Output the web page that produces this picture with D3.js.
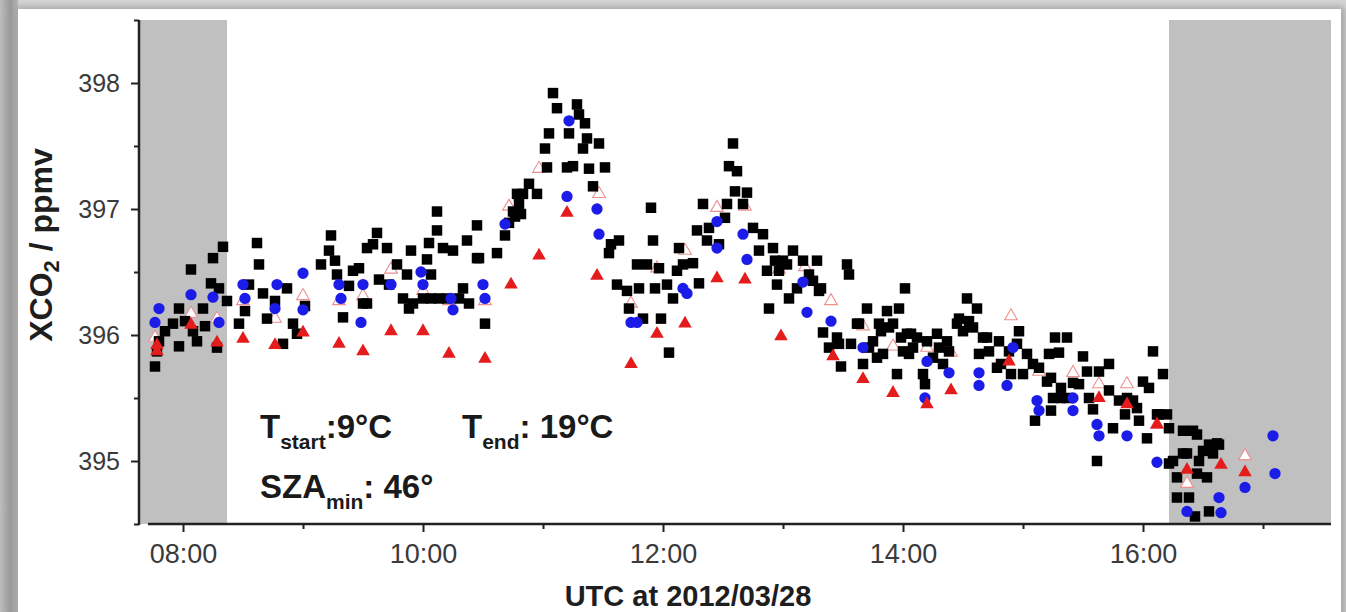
<!DOCTYPE html>
<html>
<head>
<meta charset="utf-8">
<script src="https://cdn.jsdelivr.net/npm/d3@7"></script>
<style>
  html, body { margin: 0; padding: 0; background: #fff; }
  svg { display: block; font-family: "Liberation Sans", Arial, sans-serif; }
</style>
</head>
<body>
<svg id="chart" width="1346" height="612"></svg>
<script>
'use strict'

// axis set-up
const timeDomain = ['07:38', '17:34']
const xco2Domain = [394.5, 398.5]
const majorTimeTicks = ['08:00', '10:00', '12:00', '14:00', '16:00']
const minorTimeTicks = ['09:00', '11:00', '13:00', '15:00', '17:00']
const majorXco2Ticks = [395, 396, 397, 398]
const minorXco2Ticks = [394.5, 395.5, 396.5, 397.5, 398.5]

// grey periods (start, end)
const darkPeriods = [['07:38', '08:22'], ['16:13', '17:34']]

// black squares [UTC, XCO2 ppmv]
const squareSeries = [
    ['07:46', 395.75], ['07:47', 395.87], ['07:48', 395.95], ['07:51', 396.03], ['07:55', 396.09],
    ['07:58', 396.21], ['07:58', 395.91], ['08:01', 396.11], ['08:04', 396.52], ['08:05', 396.03],
    ['08:07', 395.95], ['08:10', 396.21], ['08:11', 396.07], ['08:14', 396.41], ['08:15', 396.61],
    ['08:17', 395.90], ['08:18', 396.37], ['08:20', 396.70], ['08:22', 396.27], ['08:28', 396.09],
    ['08:31', 396.19], ['08:33', 396.40], ['08:37', 396.73], ['08:38', 396.56], ['08:40', 396.33],
    ['08:42', 396.13], ['08:46', 396.27], ['08:50', 395.93], ['08:52', 396.37], ['08:55', 396.09],
    ['08:57', 396.01], ['09:01', 396.23], ['09:09', 396.56], ['09:13', 396.67], ['09:14', 396.79],
    ['09:17', 396.48], ['09:16', 396.59], ['09:20', 396.14], ['09:23', 396.39], ['09:25', 396.51],
    ['09:28', 396.53], ['09:30', 396.25], ['09:32', 396.69], ['09:35', 396.72], ['09:32', 396.25],
    ['09:37', 396.81], ['09:38', 396.44], ['09:42', 396.69], ['09:43', 396.40], ['09:47', 396.56],
    ['09:50', 396.29], ['09:52', 396.48], ['09:53', 396.21], ['09:54', 396.67], ['09:55', 396.25],
    ['10:00', 396.29], ['10:02', 396.60], ['10:03', 396.73], ['10:04', 396.48], ['10:04', 396.29],
    ['10:07', 396.98], ['10:07', 396.83], ['10:08', 396.29], ['10:10', 396.69], ['10:12', 396.29],
    ['10:15', 396.67], ['10:18', 396.29], ['10:20', 396.37], ['10:22', 396.75], ['10:23', 396.25],
    ['10:27', 396.61], ['10:27', 396.87], ['10:28', 396.61], ['10:31', 396.09], ['10:37', 396.65],
    ['10:41', 396.79], ['10:43', 396.89], ['10:45', 396.98], ['10:46', 396.94], ['10:47', 397.12],
    ['10:48', 397.04], ['10:49', 396.96], ['10:50', 397.12], ['10:53', 397.20], ['10:57', 397.12],
    ['11:01', 397.48], ['11:02', 397.33], ['11:03', 397.60], ['11:05', 397.92], ['11:07', 397.80],
    ['11:12', 397.33], ['11:13', 397.60], ['11:15', 397.34], ['11:17', 397.83], ['11:18', 397.75],
    ['11:20', 397.48], ['11:21', 397.68], ['11:22', 397.56], ['11:23', 397.32], ['11:25', 397.18],
    ['11:28', 397.52], ['11:31', 397.33], ['11:33', 396.65], ['11:34', 396.72], ['11:37', 396.40],
    ['11:38', 396.75], ['11:42', 396.35], ['11:43', 396.21], ['11:47', 396.56], ['11:48', 396.37],
    ['11:50', 396.13], ['11:52', 396.56], ['11:54', 397.01], ['11:55', 396.75], ['11:56', 396.37],
    ['11:58', 396.53], ['11:59', 396.13], ['12:02', 396.40], ['12:03', 395.86], ['12:05', 396.29],
    ['12:07', 396.51], ['12:08', 396.69], ['12:10', 396.56], ['12:15', 396.57], ['12:17', 396.83],
    ['12:18', 396.41], ['12:20', 397.04], ['12:22', 396.75], ['12:23', 396.85], ['12:28', 396.72],
    ['12:32', 397.04], ['12:31', 396.93], ['12:33', 397.34], ['12:35', 397.52], ['12:36', 397.14],
    ['12:37', 397.30], ['12:40', 397.04], ['12:42', 397.13], ['12:45', 396.85], ['12:48', 396.67],
    ['12:50', 396.80], ['12:52', 396.51], ['12:53', 396.21], ['12:55', 396.69], ['12:56', 396.59],
    ['12:57', 396.40], ['12:58', 396.51], ['13:00', 396.59], ['13:02', 396.56], ['13:03', 396.29],
    ['13:05', 396.67], ['13:07', 396.37], ['13:10', 396.59], ['13:13', 396.48], ['13:15', 396.43],
    ['13:17', 396.59], ['13:18', 396.35], ['13:19', 396.37], ['13:20', 396.02], ['13:23', 395.90],
    ['13:27', 395.98], ['13:28', 395.93], ['13:29', 395.75], ['13:32', 396.56], ['13:33', 396.48],
    ['13:34', 395.93], ['13:37', 396.09], ['13:38', 396.09], ['13:40', 395.77], ['13:42', 396.21],
    ['13:43', 395.90], ['13:45', 395.95], ['13:47', 395.82], ['13:48', 396.09], ['13:49', 396.03],
    ['13:50', 395.85], ['13:52', 396.19], ['13:53', 396.06], ['13:55', 396.09], ['13:57', 395.69],
    ['13:58', 396.21], ['13:59', 395.98], ['14:00', 395.87], ['14:01', 396.37], ['14:02', 396.01],
    ['14:03', 395.85], ['14:04', 396.01], ['14:05', 395.90], ['14:07', 395.98], ['14:10', 395.69],
    ['14:11', 395.61], ['14:12', 395.95], ['14:15', 395.82], ['14:17', 396.01], ['14:18', 395.90],
    ['14:20', 395.77], ['14:22', 395.95], ['14:23', 395.87], ['14:27', 396.09], ['14:28', 396.13],
    ['14:30', 396.03], ['14:32', 396.29], ['14:33', 396.11], ['14:35', 396.06], ['14:37', 396.21],
    ['14:38', 395.85], ['14:40', 395.98], ['14:42', 395.98], ['14:43', 395.87], ['14:47', 395.74],
    ['14:48', 395.95], ['14:49', 395.77], ['14:53', 395.87], ['14:54', 395.69], ['14:57', 395.93],
    ['14:58', 396.03], ['15:00', 395.69], ['15:02', 395.85], ['15:05', 395.77], ['15:06', 395.32],
    ['15:08', 395.74], ['15:12', 395.63], ['15:13', 395.85], ['15:14', 395.66], ['15:14', 395.40],
    ['15:15', 395.50], ['15:16', 395.98], ['15:18', 395.86], ['15:19', 395.58], ['15:19', 395.50],
    ['15:22', 395.98], ['15:22', 395.50], ['15:25', 395.62], ['15:28', 395.61], ['15:30', 395.83],
    ['15:32', 395.71], ['15:33', 395.50], ['15:35', 395.41], ['15:37', 395.00], ['15:38', 395.71],
    ['15:43', 395.77], ['15:43', 395.56], ['15:45', 395.26], ['15:48', 395.48], ['15:52', 395.50],
    ['15:51', 395.37], ['15:55', 395.48], ['15:57', 395.42], ['15:58', 395.32], ['16:00', 395.63],
    ['16:02', 395.18], ['16:03', 395.58], ['16:05', 395.87], ['16:07', 395.37], ['16:08', 395.37],
    ['16:10', 395.69], ['16:12', 395.37], ['16:13', 395.26], ['16:13', 394.98], ['16:15', 395.00],
    ['16:17', 394.87], ['16:17', 394.71], ['16:20', 395.24], ['16:20', 395.06], ['16:22', 395.06],
    ['16:23', 394.71], ['16:25', 395.24], ['16:26', 394.56], ['16:27', 395.21], ['16:27', 394.90],
    ['16:28', 395.00], ['16:30', 395.08], ['16:32', 394.87], ['16:33', 395.13], ['16:33', 394.60],
    ['16:35', 395.06], ['16:37', 395.14], ['16:38', 395.13]
]

// blue circles
const circleSeries = [
    ['07:46', 396.10], ['07:48', 396.21], ['08:04', 396.32], ['08:15', 396.30], ['08:18', 396.10],
    ['08:30', 396.40], ['08:31', 396.29], ['08:46', 396.21], ['08:47', 396.40], ['09:00', 396.49],
    ['09:00', 396.20], ['09:18', 396.40], ['09:19', 396.29], ['09:29', 396.10], ['09:30', 396.40],
    ['09:44', 396.40], ['09:59', 396.50], ['10:00', 396.40], ['10:14', 396.29], ['10:15', 396.20],
    ['10:30', 396.40], ['10:31', 396.29], ['10:41', 396.88], ['11:13', 397.70], ['11:12', 397.10],
    ['11:27', 397.00], ['11:28', 396.80], ['11:44', 396.10], ['11:47', 396.10], ['12:10', 396.37],
    ['12:12', 396.33], ['12:27', 396.90], ['12:27', 396.69], ['12:40', 396.80], ['12:42', 396.60],
    ['13:10', 396.42], ['13:12', 396.18], ['13:24', 396.11], ['13:40', 395.90], ['14:12', 395.79],
    ['14:11', 395.50], ['14:23', 395.70], ['14:38', 395.70], ['14:38', 395.60], ['14:52', 395.60],
    ['14:55', 395.90], ['15:07', 395.48], ['15:08', 395.40], ['15:25', 395.50], ['15:25', 395.40],
    ['15:37', 395.29], ['15:38', 395.20], ['15:52', 395.20], ['16:07', 394.99], ['16:22', 394.60],
    ['16:38', 394.71], ['16:39', 394.59], ['16:51', 394.79], ['17:05', 395.20], ['17:06', 394.90]
]

// red filled triangles
const filledTriangleSeries = [
    ['07:47', 395.92], ['07:47', 395.87], ['08:04', 396.08], ['08:17', 395.94], ['08:30', 395.97],
    ['08:46', 395.92], ['09:00', 396.02], ['09:18', 395.93], ['09:30', 395.87], ['09:44', 396.03],
    ['10:00', 396.03], ['10:13', 395.85], ['10:31', 395.81], ['10:44', 396.40], ['10:58', 396.63],
    ['11:12', 396.97], ['11:27', 396.47], ['11:44', 395.77], ['11:57', 396.01], ['12:11', 396.09],
    ['12:27', 396.45], ['12:41', 396.44], ['12:59', 395.99], ['13:25', 395.83], ['13:40', 395.65],
    ['13:55', 395.54], ['14:12', 395.45], ['14:24', 395.56], ['14:53', 395.79], ['15:38', 395.50],
    ['15:52', 395.45], ['16:07', 395.29], ['16:22', 394.93], ['16:39', 394.97], ['16:51', 394.91]
]

// open triangles
const openTriangleSeries = [
    ['07:46', 395.98], ['08:04', 396.17], ['08:17', 396.13], ['08:30', 396.27], ['08:46', 396.13],
    ['09:00', 396.31], ['09:18', 396.27], ['09:30', 396.31], ['09:44', 396.52], ['10:00', 396.35],
    ['10:13', 396.27], ['10:31', 396.27], ['10:43', 397.02], ['10:58', 397.32], ['11:28', 397.12],
    ['11:44', 396.25], ['11:57', 396.53], ['12:11', 396.67], ['12:27', 397.01], ['12:41', 397.02],
    ['12:58', 396.52], ['13:11', 396.54], ['13:24', 396.27], ['13:40', 396.07], ['13:55', 395.91],
    ['14:12', 395.90], ['14:24', 395.86], ['14:54', 396.15], ['15:08', 395.71], ['15:25', 395.70],
    ['15:38', 395.61], ['15:52', 395.61], ['16:07', 395.29], ['16:22', 394.82], ['16:51', 395.04]
]

const parseTime = d3.utcParse('%H:%M')
const plotLeft = 139, plotRight = 1331, plotTop = 20, plotBottom = 524

const svg = d3.select('#chart')

// picture frame with a soft shadow
const defs = svg.append('defs')
const shadow = defs.append('filter').attr('id', 'shadow')
    .attr('x', '-5%').attr('y', '-5%').attr('width', '110%').attr('height', '110%')
shadow.append('feGaussianBlur').attr('stdDeviation', 4)
const leftEdge = defs.append('linearGradient').attr('id', 'leftEdge')
leftEdge.append('stop').attr('offset', '0%').attr('stop-color', '#bdbdbd')
leftEdge.append('stop').attr('offset', '60%').attr('stop-color', '#989898')
leftEdge.append('stop').attr('offset', '100%').attr('stop-color', '#b8b8b8')

svg.append('rect').attr('width', 1346).attr('height', 612).attr('fill', '#d6d6d6')
svg.append('rect').attr('width', 18).attr('height', 612).attr('fill', 'url(#leftEdge)')
svg.append('rect').attr('x', 15).attr('y', 7).attr('width', 1330).attr('height', 640)
    .attr('fill', '#a0a0a0').attr('filter', 'url(#shadow)')
svg.append('rect').attr('x', 18).attr('y', 9).attr('width', 1323).attr('height', 640)
    .attr('fill', '#fff')

// scales
const x = d3.scaleUtc().domain(timeDomain.map(parseTime)).range([plotLeft, plotRight])
const y = d3.scaleLinear().domain(xco2Domain).range([plotBottom, plotTop])

// grey periods
svg.append('g')
    .selectAll('rect')
    .data(darkPeriods)
    .join('rect')
    .attr('x', (d) => x(parseTime(d[0])))
    .attr('width', (d) => x(parseTime(d[1])) - x(parseTime(d[0])))
    .attr('y', plotTop)
    .attr('height', plotBottom - plotTop)
    .attr('fill', '#c0c0c0')

// markers (open triangles sit underneath the squares)
const place = (d) => `translate(${x(parseTime(d[0]))},${y(d[1])})`
const marks = svg.append('g')

marks.selectAll('path.to')
    .data(openTriangleSeries)
    .join('path')
    .attr('class', 'to')
    .attr('transform', place)
    .attr('d', d3.symbol(d3.symbolTriangle, 70))
    .attr('fill', '#fff')
    .attr('stroke', '#ee9090')
    .attr('stroke-width', 1.1)

marks.selectAll('path.sq')
    .data(squareSeries)
    .join('path')
    .attr('class', 'sq')
    .attr('transform', place)
    .attr('d', d3.symbol(d3.symbolSquare, 110))
    .attr('fill', '#000')

marks.selectAll('path.ci')
    .data(circleSeries)
    .join('path')
    .attr('class', 'ci')
    .attr('transform', place)
    .attr('d', d3.symbol(d3.symbolCircle, 100))
    .attr('fill', '#1c1ce8')

marks.selectAll('path.tf')
    .data(filledTriangleSeries)
    .join('path')
    .attr('class', 'tf')
    .attr('transform', place)
    .attr('d', d3.symbol(d3.symbolTriangle, 80))
    .attr('fill', '#e41c1c')

// y axis
const yAxisG = svg.append('g').attr('transform', `translate(${plotLeft},0)`)
yAxisG.call(d3.axisLeft(y).tickValues(majorXco2Ticks).tickSize(8).tickPadding(11)
    .tickFormat(d3.format('d')))
yAxisG.append('g').call(d3.axisLeft(y).tickValues(minorXco2Ticks).tickSize(5).tickFormat(''))
yAxisG.selectAll('.domain').remove()
yAxisG.selectAll('line').attr('stroke', '#222').attr('stroke-width', 2)
yAxisG.selectAll('text').attr('font-size', 25).attr('fill', '#3a3a3a')
    .attr('font-family', '"Liberation Sans", Arial, sans-serif')
yAxisG.append('line').attr('y1', plotTop).attr('y2', plotBottom + 1)
    .attr('stroke', '#222').attr('stroke-width', 2.5)

// x axis
const xAxisG = svg.append('g').attr('transform', `translate(0,${plotBottom})`)
xAxisG.call(d3.axisBottom(x).tickValues(majorTimeTicks.map(parseTime)).tickSize(8).tickPadding(12)
    .tickFormat(d3.utcFormat('%H:%M')))
xAxisG.append('g').call(d3.axisBottom(x).tickValues(minorTimeTicks.map(parseTime)).tickSize(5).tickFormat(''))
xAxisG.selectAll('.domain').remove()
xAxisG.selectAll('line').attr('stroke', '#222').attr('stroke-width', 2)
xAxisG.selectAll('text').attr('font-size', 27).attr('fill', '#3a3a3a')
    .attr('font-family', '"Liberation Sans", Arial, sans-serif')
xAxisG.append('line').attr('x1', plotLeft + 9).attr('x2', plotRight)
    .attr('stroke', '#222').attr('stroke-width', 2.5)

// axis titles
svg.append('text')
    .attr('x', 688).attr('y', 606)
    .attr('text-anchor', 'middle')
    .attr('font-size', 29).attr('font-weight', 'bold').attr('fill', '#1e1e1e')
    .text('UTC at 2012/03/28')

const yTitle = svg.append('text')
    .attr('transform', 'translate(52,245) rotate(-90)')
    .attr('text-anchor', 'middle')
    .attr('font-size', 32).attr('font-weight', 'bold').attr('fill', '#1e1e1e')
yTitle.append('tspan').text('XCO')
yTitle.append('tspan').attr('font-size', 22).attr('dy', 7).text('2')
yTitle.append('tspan').attr('dy', -7).text(' / ppmv')

// annotations
const note = (xPos, yPos, main, sub, rest) => {
    const t = svg.append('text')
        .attr('x', xPos).attr('y', yPos)
        .attr('font-size', 33).attr('font-weight', 'bold').attr('fill', '#1a1a1a')
    t.append('tspan').text(main)
    t.append('tspan').attr('font-size', 21).attr('dy', 11).text(sub)
    t.append('tspan').attr('dy', -11).text(rest)
}
note(260, 438, 'T', 'start', ':9°C')
note(462, 438, 'T', 'end', ': 19°C')
note(260, 498, 'SZA', 'min', ': 46°')
</script>
</body>
</html>
